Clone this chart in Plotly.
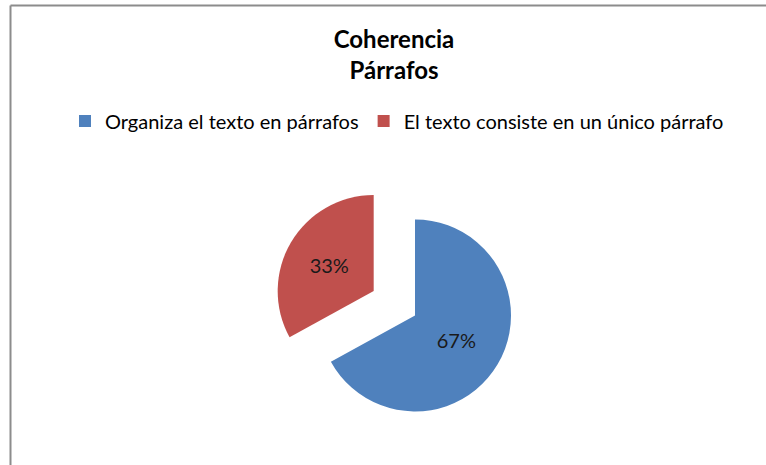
import plotly.graph_objects as go

categories = ["Organiza el texto en párrafos", "El texto consiste en un único párrafo"]
values = [67, 33]
colors = ["#4F81BD", "#C0504D"]
pulls = [0, 0.5]
title_lines = ["Coherencia", "Párrafos"]

W, H = 766, 465
FONT = "Lato, Carlito, Calibri, sans-serif"

fig = go.Figure(go.Pie(
    labels=categories,
    values=values,
    marker=dict(colors=colors, line=dict(width=0)),
    pull=pulls,
    sort=False,
    direction="clockwise",
    rotation=0,
    textinfo="percent",
    texttemplate="%{percent:.0%}",
    textposition="inside",
    insidetextorientation="horizontal",
    textfont=dict(family=FONT, size=20, color="#1a1a1a"),
    domain=dict(x=[271 / W, 559 / W], y=[5.5 / H, 293.5 / H]),
    hoverinfo="label+percent",
))

fig.update_layout(
    width=W, height=H,
    margin=dict(l=0, r=0, t=0, b=0),
    paper_bgcolor="white",
    plot_bgcolor="white",
    font=dict(family=FONT, color="#000000"),
    title=dict(
        text="<b>" + "<br>".join(title_lines) + "</b>",
        x=394 / W, xanchor="center",
        y=1 - 48 / H, yanchor="top",
        font=dict(family=FONT, size=24, color="#000000"),
    ),
    showlegend=True,
    legend=dict(
        orientation="h",
        x=397 / W, xanchor="center",
        y=1 - 121 / H, yanchor="middle",
        font=dict(family=FONT, size=20, color="#000000"),
        itemwidth=30,
        bgcolor="rgba(0,0,0,0)",
    ),
    shapes=[
        dict(type="line", xref="paper", yref="paper",
             x0=10.5 / W, x1=1.2, y0=1 - 5.5 / H, y1=1 - 5.5 / H,
             line=dict(color="#8c8c8c", width=2)),
        dict(type="line", xref="paper", yref="paper",
             x0=10.5 / W, x1=10.5 / W, y0=-0.2, y1=1 - 5.5 / H,
             line=dict(color="#8c8c8c", width=2)),
    ],
)

fig.write_html(
    "out.html",
    config={"displayModeBar": False},
    post_script="document.body.style.margin='0';document.body.style.padding='0';",
)
